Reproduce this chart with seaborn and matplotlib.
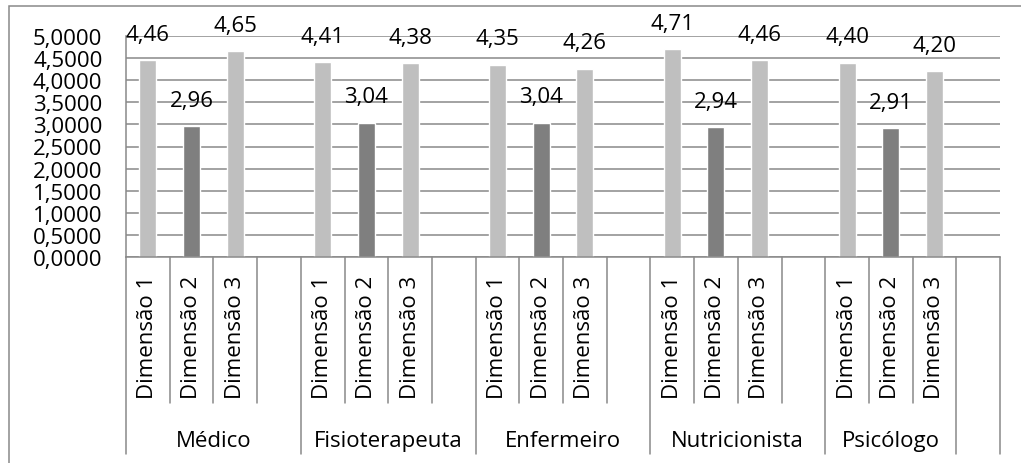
import numpy as np
import pandas as pd
import matplotlib
matplotlib.use("Agg")
import matplotlib.pyplot as plt
from matplotlib.patches import Rectangle
import seaborn as sns

# dados
grupos = ["Médico", "Fisioterapeuta", "Enfermeiro", "Nutricionista", "Psicólogo"]
dimensoes = ["Dimensão 1", "Dimensão 2", "Dimensão 3"]
dim1 = [4.46, 4.41, 4.35, 4.71, 4.40]
dim2 = [2.96, 3.04, 3.04, 2.94, 2.91]
dim3 = [4.65, 4.38, 4.26, 4.46, 4.20]
y_ticks = [0.0, 0.5, 1.0, 1.5, 2.0, 2.5, 3.0, 3.5, 4.0, 4.5, 5.0]
cores = {"Dimensão 1": "#BFBFBF", "Dimensão 2": "#7F7F7F", "Dimensão 3": "#BFBFBF"}

# monta as linhas (cada grupo tem uma linha vazia no fim, como na planilha)
linhas = []
for i, g in enumerate(grupos):
    for d, vals in zip(dimensoes, [dim1, dim2, dim3]):
        linhas.append({"slot": f"{g} {d}", "grupo": g, "dim": d, "valor": vals[i]})
    # a última linha vazia ficou fora do grupo Psicólogo no original
    g_vazio = g if i < len(grupos) - 1 else ""
    linhas.append({"slot": f"{g} vazio", "grupo": g_vazio, "dim": "", "valor": np.nan})
df = pd.DataFrame(linhas)
ordem = df["slot"].tolist()

sns.set_style("white")
plt.rcParams["font.family"] = ["Open Sans", "DejaVu Sans"]
plt.rcParams["font.size"] = 16
plt.rcParams["text.color"] = "black"
plt.rcParams["xtick.color"] = "black"
plt.rcParams["ytick.color"] = "black"

cinza = "#898989"
W, H = 1021, 464
fig = plt.figure(figsize=(W / 100, H / 100), dpi=100)
ax = fig.add_axes([126 / W, 1 - 258 / H, 874 / W, 221 / H])

sns.barplot(data=df.dropna(subset=["valor"]), x="slot", y="valor", hue="dim",
            order=ordem, hue_order=dimensoes, palette=cores, dodge=False,
            width=0.39, errorbar=None, legend=False, ax=ax, saturation=1)

for c in ax.containers:
    ax.bar_label(c, labels=[f"{b.get_height():.2f}".replace(".", ",") for b in c],
                 padding=11, fontsize=16, color="black")

ax.set_ylim(0, 5)
ax.set_xlim(-0.5, len(ordem) - 0.5)
ax.set_yticks(y_ticks)
ax.set_yticklabels([f"{v:.4f}".replace(".", ",") for v in y_ticks])
ax.set_xticks(range(len(ordem)))
ax.set_xticklabels(df["dim"].tolist(), rotation=90)
ax.tick_params(axis="x", length=0, pad=13, labelsize=16)
ax.tick_params(axis="y", length=6, width=1.1, color=cinza, pad=11, labelsize=16)
ax.set_xlabel("")
ax.set_ylabel("")

ax.set_axisbelow(True)
ax.yaxis.grid(True, color=cinza, lw=1.1)
ax.xaxis.grid(False)
for s in ["top", "right"]:
    ax.spines[s].set_visible(False)
for s in ["left", "bottom"]:
    ax.spines[s].set_color(cinza)
    ax.spines[s].set_linewidth(1.1)

# divisórias do eixo de categorias em dois níveis
trans = ax.get_xaxis_transform()
curto = -(404 - 258) / 221
longo = -(455 - 258) / 221
grp = df["grupo"].tolist()
for k in range(len(ordem) + 1):
    borda = k == 0 or k == len(ordem) or grp[k] != grp[k - 1]
    ax.plot([k - 0.5, k - 0.5], [0, longo if borda else curto], transform=trans,
            color=cinza, lw=1.1, clip_on=False)

inicio = 0
for k in range(1, len(ordem) + 1):
    if k == len(ordem) or grp[k] != grp[k - 1]:
        if grp[inicio]:
            ax.text((inicio + k - 1) / 2, -(442 - 258) / 221, grp[inicio],
                    transform=trans, ha="center", va="center", fontsize=16)
        inicio = k

# moldura da área do gráfico
fig.add_artist(Rectangle((9 / W, -0.1), 1.2, 1.1 - 7 / H, transform=fig.transFigure,
                         fill=False, edgecolor=cinza, lw=1.1))

fig.savefig("out.png", dpi=100)
